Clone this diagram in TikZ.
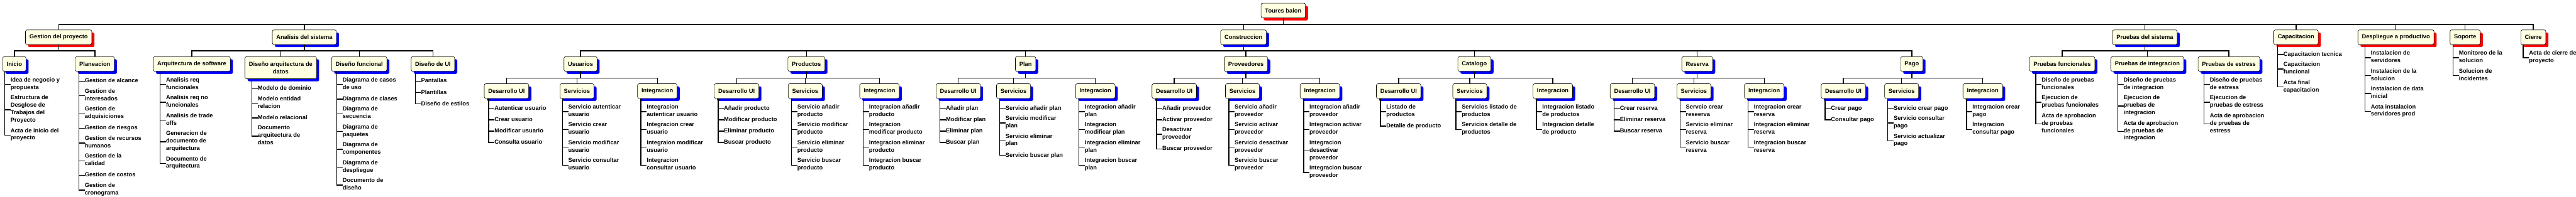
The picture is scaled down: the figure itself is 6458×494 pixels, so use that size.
\documentclass[tikz,border=0pt]{standalone}
\usepackage{fontspec}
\setmainfont{Liberation Sans}
\usetikzlibrary{shadows}
\definecolor{crema}{RGB}{255,255,225}
\tikzset{
  box/.style={draw,line width=1pt,rounded corners=4pt,fill=crema,anchor=north,align=center,
    minimum height=36.8pt,inner xsep=10pt,font=\fontsize{14.7}{18.77}\selectfont\bfseries,
    drop shadow={shadow xshift=6.5pt,shadow yshift=-6.5pt,fill=#1,opacity=1}},
  box/.default=blue,
  leaf/.style={anchor=north west,align=left,inner sep=0pt,font=\fontsize{14.7}{18.77}\selectfont\bfseries,
    execute at begin node=\strut,execute at end node=\strut},
  link/.style={line width=2.2pt}
}
\begin{document}
\begin{tikzpicture}[x=1pt,y=-1pt]
\useasboundingbox(0,0)rectangle(6458,494);
% niveles 0 y 1
\node[box=red](0)at(3217,7.6){Toures balon};
\node[box=red](1)at(147,74.7){Gestion del proyecto};
\node[box](2)at(763,74.7){Analisis del sistema};
\node[box](3)at(3117.4,74.7){Construccion};
\node[box](4)at(5377,74.7){Pruebas del sistema};
\node[box=red](5)at(5756,74.7){Capacitacion};
\node[box=red](6)at(6006.5,74.7){Despliegue a productivo};
\node[box=red](7)at(6180,74.7){Soporte};
\node[box=red](8)at(6351,74.7){Cierre};
% nivel 2
\node[box](11)at(36,141.9){Inicio};
\node[box](12)at(237.8,141.9){Planeacion};
\node[box](21)at(480.8,141.9){Arquitectura de software};
\node[box,minimum height=55.4pt](22)at(703.8,141.9){Diseño arquitectura de\\datos};
\node[box](23)at(900.6,141.9){Diseño funcional};
\node[box](24)at(1085.3,141.9){Diseño de UI};
\node[box](31)at(1455.3,141.9){Usuarios};
\node[box](32)at(2021.6,141.9){Productos};
\node[box](33)at(2571,141.9){Plan};
\node[box](34)at(3123.4,141.9){Proveedores};
\node[box](35)at(3696.2,141.9){Catalogo};
\node[box](36)at(4254.9,141.9){Reserva};
\node[box](37)at(4792.8,141.9){Pago};
\node[box](41)at(5169.7,141.9){Pruebas funcionales};
\node[box](42)at(5383.3,141.9){Pruebas de integracion};
\node[box](43)at(5587.9,141.9){Pruebas de estress};
% nivel 3
\node[box](311)at(1269.8,210){Desarrollo UI};
\node[box](312)at(1446.4,210){Servicios};
\node[box](313)at(1647.9,210){Integracion};
\node[box](321)at(1846.6,210){Desarrollo UI};
\node[box](322)at(2018.8,210){Servicios};
\node[box](323)at(2204.8,210){Integracion};
\node[box](331)at(2402.3,210){Desarrollo UI};
\node[box](332)at(2540.9,210){Servicios};
\node[box](333)at(2746,210){Integracion};
\node[box](341)at(2943.8,210){Desarrollo UI};
\node[box](342)at(3114.8,210){Servicios};
\node[box](343)at(3309,210){Integracion};
\node[box](351)at(3506.3,210){Desarrollo UI};
\node[box](352)at(3684.7,210){Servicios};
\node[box](353)at(3892.8,210){Integracion};
\node[box](361)at(4092.3,210){Desarrollo UI};
\node[box](362)at(4246.6,210){Servicios};
\node[box](363)at(4422.8,210){Integracion};
\node[box](371)at(4621.2,210){Desarrollo UI};
\node[box](372)at(4767.3,210){Servicios};
\node[box](373)at(4970.7,210){Integracion};
% hojas
\node[leaf](111)at([xshift=20pt,yshift=-14.9pt]11.south west){Idea de negocio y\\propuesta};
\node[leaf](112)at([yshift=-9.4pt]111.south west){Estructura de\\Desglose de\\Trabajos del\\Proyecto};
\node[leaf](113)at([yshift=-9.4pt]112.south west){Acta de inicio del\\proyecto};
\node[leaf](121)at([xshift=23.8pt,yshift=-14.9pt]12.south west){Gestion de alcance};
\node[leaf](122)at([yshift=-9.4pt]121.south west){Gestion de\\interesados};
\node[leaf](123)at([yshift=-9.4pt]122.south west){Gestion de\\adquisiciones};
\node[leaf](124)at([yshift=-9.4pt]123.south west){Gestion de riesgos};
\node[leaf](125)at([yshift=-9.4pt]124.south west){Gestion de recursos\\humanos};
\node[leaf](126)at([yshift=-9.4pt]125.south west){Gestion de la\\calidad};
\node[leaf](127)at([yshift=-9.4pt]126.south west){Gestion de costos};
\node[leaf](128)at([yshift=-9.4pt]127.south west){Gestion de\\cronograma};
\node[leaf](211)at([xshift=32.4pt,yshift=-14.9pt]21.south west){Analisis req\\funcionales};
\node[leaf](212)at([yshift=-9.4pt]211.south west){Analisis req no\\funcionales};
\node[leaf](213)at([yshift=-9.4pt]212.south west){Analisis de trade\\offs};
\node[leaf](214)at([yshift=-9.4pt]213.south west){Generacion de\\documento de\\arquitectura};
\node[leaf](215)at([yshift=-9.4pt]214.south west){Documento de\\arquitectura};
\node[leaf](221)at([xshift=32.4pt,yshift=-14.9pt]22.south west){Modelo de dominio};
\node[leaf](222)at([yshift=-9.4pt]221.south west){Modelo entidad\\relacion};
\node[leaf](223)at([yshift=-9.4pt]222.south west){Modelo relacional};
\node[leaf](224)at([yshift=-9.4pt]223.south west){Documento\\arquitectura de\\datos};
\node[leaf](231)at([xshift=27.9pt,yshift=-14.9pt]23.south west){Diagrama de casos\\de uso};
\node[leaf](232)at([yshift=-9.4pt]231.south west){Diagrama de clases};
\node[leaf](233)at([yshift=-9.4pt]232.south west){Diagrama de\\secuencia};
\node[leaf](234)at([yshift=-9.4pt]233.south west){Diagrama de\\paquetes};
\node[leaf](235)at([yshift=-9.4pt]234.south west){Diagrama de\\componentes};
\node[leaf](236)at([yshift=-9.4pt]235.south west){Diagrama de\\despliegue};
\node[leaf](237)at([yshift=-9.4pt]236.south west){Documento de\\diseño};
\node[leaf](241)at([xshift=25.2pt,yshift=-14.9pt]24.south west){Pantallas};
\node[leaf](242)at([yshift=-9.4pt]241.south west){Plantillas};
\node[leaf](243)at([yshift=-9.4pt]242.south west){Diseño de estilos};
\node[leaf](3111)at([xshift=25.9pt,yshift=-14.9pt]311.south west){Autenticar usuario};
\node[leaf](3112)at([yshift=-9.4pt]3111.south west){Crear usuario};
\node[leaf](3113)at([yshift=-9.4pt]3112.south west){Modificar usuario};
\node[leaf](3114)at([yshift=-9.4pt]3113.south west){Consulta usuario};
\node[leaf](3121)at([xshift=21.4pt,yshift=-14.9pt]312.south west){Servicio autenticar\\usuario};
\node[leaf](3122)at([yshift=-9.4pt]3121.south west){Servicio crear\\usuario};
\node[leaf](3123)at([yshift=-9.4pt]3122.south west){Servicio modificar\\usuario};
\node[leaf](3124)at([yshift=-9.4pt]3123.south west){Servicio consultar\\usuario};
\node[leaf](3131)at([xshift=23.5pt,yshift=-14.9pt]313.south west){Integracion\\autenticar usuario};
\node[leaf](3132)at([yshift=-9.4pt]3131.south west){Integracion crear\\usuario};
\node[leaf](3133)at([yshift=-9.4pt]3132.south west){Integraion modificar\\usuario};
\node[leaf](3134)at([yshift=-9.4pt]3133.south west){Integracion\\consultar usuario};
\node[leaf](3211)at([xshift=24.5pt,yshift=-14.9pt]321.south west){Añadir producto};
\node[leaf](3212)at([yshift=-9.4pt]3211.south west){Modificar producto};
\node[leaf](3213)at([yshift=-9.4pt]3212.south west){Eliminar producto};
\node[leaf](3214)at([yshift=-9.4pt]3213.south west){Buscar producto};
\node[leaf](3221)at([xshift=23.1pt,yshift=-14.9pt]322.south west){Servicio añadir\\producto};
\node[leaf](3222)at([yshift=-9.4pt]3221.south west){Servicio modificar\\producto};
\node[leaf](3223)at([yshift=-9.4pt]3222.south west){Servicio eliminar\\producto};
\node[leaf](3224)at([yshift=-9.4pt]3223.south west){Servicio buscar\\producto};
\node[leaf](3231)at([xshift=23.8pt,yshift=-14.9pt]323.south west){Integracion añadir\\producto};
\node[leaf](3232)at([yshift=-9.4pt]3231.south west){Integracion\\modificar producto};
\node[leaf](3233)at([yshift=-9.4pt]3232.south west){Integracion eliminar\\producto};
\node[leaf](3234)at([yshift=-9.4pt]3233.south west){Integracion buscar\\producto};
\node[leaf](3311)at([xshift=25.2pt,yshift=-14.9pt]331.south west){Añadir plan};
\node[leaf](3312)at([yshift=-9.4pt]3311.south west){Modificar plan};
\node[leaf](3313)at([yshift=-9.4pt]3312.south west){Eliminar plan};
\node[leaf](3314)at([yshift=-9.4pt]3313.south west){Buscar plan};
\node[leaf](3321)at([xshift=23.1pt,yshift=-14.9pt]332.south west){Servicio añadir plan};
\node[leaf](3322)at([yshift=-9.4pt]3321.south west){Servicio modificar\\plan};
\node[leaf](3323)at([yshift=-9.4pt]3322.south west){Servicio eliminar\\plan};
\node[leaf](3324)at([yshift=-9.4pt]3323.south west){Servicio buscar plan};
\node[leaf](3331)at([xshift=23.5pt,yshift=-14.9pt]333.south west){Integracion añadir\\plan};
\node[leaf](3332)at([yshift=-9.4pt]3331.south west){Integracion\\modificar plan};
\node[leaf](3333)at([yshift=-9.4pt]3332.south west){Integracion eliminar\\plan};
\node[leaf](3334)at([yshift=-9.4pt]3333.south west){Integracion buscar\\plan};
\node[leaf](3411)at([xshift=26.2pt,yshift=-14.9pt]341.south west){Añadir proveedor};
\node[leaf](3412)at([yshift=-9.4pt]3411.south west){Activar proveedor};
\node[leaf](3413)at([yshift=-9.4pt]3412.south west){Desactivar\\proveedor};
\node[leaf](3414)at([yshift=-9.4pt]3413.south west){Buscar proveedor};
\node[leaf](3421)at([xshift=23.5pt,yshift=-14.9pt]342.south west){Servicio añadir\\proveedor};
\node[leaf](3422)at([yshift=-9.4pt]3421.south west){Servicio activar\\proveedor};
\node[leaf](3423)at([yshift=-9.4pt]3422.south west){Servicio desactivar\\proveedor};
\node[leaf](3424)at([yshift=-9.4pt]3423.south west){Servicio buscar\\proveedor};
\node[leaf](3431)at([xshift=23.8pt,yshift=-14.9pt]343.south west){Integracion añadir\\proveedor};
\node[leaf](3432)at([yshift=-9.4pt]3431.south west){Integracion activar\\proveedor};
\node[leaf](3433)at([yshift=-9.4pt]3432.south west){Integracion\\desactivar\\proveedor};
\node[leaf](3434)at([yshift=-9.4pt]3433.south west){Integracion buscar\\proveedor};
\node[leaf](3511)at([xshift=25.2pt,yshift=-14.9pt]351.south west){Listado de\\productos};
\node[leaf](3512)at([yshift=-9.4pt]3511.south west){Detalle de producto};
\node[leaf](3521)at([xshift=22.8pt,yshift=-14.9pt]352.south west){Servicios listado de\\productos};
\node[leaf](3522)at([yshift=-9.4pt]3521.south west){Servicios detalle de\\productos};
\node[leaf](3531)at([xshift=23.8pt,yshift=-14.9pt]353.south west){Integracion listado\\de productos};
\node[leaf](3532)at([yshift=-9.4pt]3531.south west){Integracion detalle\\de producto};
\node[leaf](3611)at([xshift=24.8pt,yshift=-14.9pt]361.south west){Crear reserva};
\node[leaf](3612)at([yshift=-9.4pt]3611.south west){Eliminar reserva};
\node[leaf](3613)at([yshift=-9.4pt]3612.south west){Buscar reserva};
\node[leaf](3621)at([xshift=22.8pt,yshift=-14.9pt]362.south west){Servcio crear\\reseerva};
\node[leaf](3622)at([yshift=-9.4pt]3621.south west){Servicio eliminar\\reserva};
\node[leaf](3623)at([yshift=-9.4pt]3622.south west){Servicio buscar\\reserva};
\node[leaf](3631)at([xshift=24.1pt,yshift=-14.9pt]363.south west){Integracion crear\\reserva};
\node[leaf](3632)at([yshift=-9.4pt]3631.south west){Integracion eliminar\\reserva};
\node[leaf](3633)at([yshift=-9.4pt]3632.south west){Integracion buscar\\reserva};
\node[leaf](3711)at([xshift=25.2pt,yshift=-14.9pt]371.south west){Crear pago};
\node[leaf](3712)at([yshift=-9.4pt]3711.south west){Consultar pago};
\node[leaf](3721)at([xshift=23.1pt,yshift=-14.9pt]372.south west){Servicio crear pago};
\node[leaf](3722)at([yshift=-9.4pt]3721.south west){Servicio consultar\\pago};
\node[leaf](3723)at([yshift=-9.4pt]3722.south west){Servicio actualizar\\pago};
\node[leaf](3731)at([xshift=24.1pt,yshift=-14.9pt]373.south west){Integracion crear\\pago};
\node[leaf](3732)at([yshift=-9.4pt]3731.south west){Integracion\\consultar pago};
\node[leaf](411)at([xshift=30.7pt,yshift=-14.9pt]41.south west){Diseño de pruebas\\funcionales};
\node[leaf](412)at([yshift=-9.4pt]411.south west){Ejecucion de\\pruebas funcionales};
\node[leaf](413)at([yshift=-9.4pt]412.south west){Acta de aprobacion\\de pruebas\\funcionales};
\node[leaf](421)at([xshift=32.1pt,yshift=-14.9pt]42.south west){Diseño de pruebas\\de integracion};
\node[leaf](422)at([yshift=-9.4pt]421.south west){Ejecucion de\\pruebas de\\integracion};
\node[leaf](423)at([yshift=-9.4pt]422.south west){Acta de aprobacion\\de pruebas de\\integracion};
\node[leaf](431)at([xshift=30pt,yshift=-14.9pt]43.south west){Diseño de pruebas\\de estress};
\node[leaf](432)at([yshift=-9.4pt]431.south west){Ejecucion de\\pruebas de estress};
\node[leaf](433)at([yshift=-9.4pt]432.south west){Acta de aprobacion\\de pruebas de\\estress};
\node[leaf](51)at([xshift=24.8pt,yshift=-14.9pt]5.south west){Capacitacion tecnica};
\node[leaf](52)at([yshift=-9.4pt]51.south west){Capacitacion\\funcional};
\node[leaf](53)at([yshift=-9.4pt]52.south west){Acta final\\capacitacion};
\node[leaf](61)at([xshift=32.8pt,yshift=-14.9pt]6.south west){Instalacion de\\servidores};
\node[leaf](62)at([yshift=-9.4pt]61.south west){Instalacion de la\\solucion};
\node[leaf](63)at([yshift=-9.4pt]62.south west){Instalacion de data\\inicial};
\node[leaf](64)at([yshift=-9.4pt]63.south west){Acta instalacion\\servidores prod};
\node[leaf](71)at([xshift=22.4pt,yshift=-14.9pt]7.south west){Monitoreo de la\\solucion};
\node[leaf](72)at([yshift=-9.4pt]71.south west){Solucion de\\incidentes};
\node[leaf](81)at([xshift=21pt,yshift=-14.9pt]8.south west){Acta de cierre de\\proyecto};
% conectores entre cajas
\draw[link](0.south)--++(0,16)-|(1.north);
\draw[link](0.south)--++(0,16)-|(2.north);
\draw[link](0.south)--++(0,16)-|(3.north);
\draw[link](0.south)--++(0,16)-|(4.north);
\draw[link](0.south)--++(0,16)-|(5.north);
\draw[link](0.south)--++(0,16)-|(6.north);
\draw[link](0.south)--++(0,16)-|(7.north);
\draw[link](0.south)--++(0,16)-|(8.north);
\draw[link](1.south)--++(0,15.2)-|(11.north);
\draw[link](1.south)--++(0,15.2)-|(12.north);
\draw[link](2.south)--++(0,15.2)-|(21.north);
\draw[link](2.south)--++(0,15.2)-|(22.north);
\draw[link](2.south)--++(0,15.2)-|(23.north);
\draw[link](2.south)--++(0,15.2)-|(24.north);
\draw[link](3.south)--++(0,15.2)-|(31.north);
\draw[link](3.south)--++(0,15.2)-|(32.north);
\draw[link](3.south)--++(0,15.2)-|(33.north);
\draw[link](3.south)--++(0,15.2)-|(34.north);
\draw[link](3.south)--++(0,15.2)-|(35.north);
\draw[link](3.south)--++(0,15.2)-|(36.north);
\draw[link](3.south)--++(0,15.2)-|(37.north);
\draw[link](4.south)--++(0,15.2)-|(41.north);
\draw[link](4.south)--++(0,15.2)-|(42.north);
\draw[link](4.south)--++(0,15.2)-|(43.north);
\draw[link](31.south)--++(0,16.2)-|(311.north);
\draw[link](31.south)--++(0,16.2)-|(312.north);
\draw[link](31.south)--++(0,16.2)-|(313.north);
\draw[link](32.south)--++(0,16.2)-|(321.north);
\draw[link](32.south)--++(0,16.2)-|(322.north);
\draw[link](32.south)--++(0,16.2)-|(323.north);
\draw[link](33.south)--++(0,16.2)-|(331.north);
\draw[link](33.south)--++(0,16.2)-|(332.north);
\draw[link](33.south)--++(0,16.2)-|(333.north);
\draw[link](34.south)--++(0,16.2)-|(341.north);
\draw[link](34.south)--++(0,16.2)-|(342.north);
\draw[link](34.south)--++(0,16.2)-|(343.north);
\draw[link](35.south)--++(0,16.2)-|(351.north);
\draw[link](35.south)--++(0,16.2)-|(352.north);
\draw[link](35.south)--++(0,16.2)-|(353.north);
\draw[link](36.south)--++(0,16.2)-|(361.north);
\draw[link](36.south)--++(0,16.2)-|(362.north);
\draw[link](36.south)--++(0,16.2)-|(363.north);
\draw[link](37.south)--++(0,16.2)-|(371.north);
\draw[link](37.south)--++(0,16.2)-|(372.north);
\draw[link](37.south)--++(0,16.2)-|(373.north);
% conectores a las hojas
\draw[link]([xshift=5.5pt]11.south west)|-(111.west);
\draw[link]([xshift=5.5pt]11.south west)|-(112.west);
\draw[link]([xshift=5.5pt]11.south west)|-(113.west);
\draw[link]([xshift=9.3pt]12.south west)|-(121.west);
\draw[link]([xshift=9.3pt]12.south west)|-(122.west);
\draw[link]([xshift=9.3pt]12.south west)|-(123.west);
\draw[link]([xshift=9.3pt]12.south west)|-(124.west);
\draw[link]([xshift=9.3pt]12.south west)|-(125.west);
\draw[link]([xshift=9.3pt]12.south west)|-(126.west);
\draw[link]([xshift=9.3pt]12.south west)|-(127.west);
\draw[link]([xshift=9.3pt]12.south west)|-(128.west);
\draw[link]([xshift=17.9pt]21.south west)|-(211.west);
\draw[link]([xshift=17.9pt]21.south west)|-(212.west);
\draw[link]([xshift=17.9pt]21.south west)|-(213.west);
\draw[link]([xshift=17.9pt]21.south west)|-(214.west);
\draw[link]([xshift=17.9pt]21.south west)|-(215.west);
\draw[link]([xshift=17.9pt]22.south west)|-(221.west);
\draw[link]([xshift=17.9pt]22.south west)|-(222.west);
\draw[link]([xshift=17.9pt]22.south west)|-(223.west);
\draw[link]([xshift=17.9pt]22.south west)|-(224.west);
\draw[link]([xshift=13.4pt]23.south west)|-(231.west);
\draw[link]([xshift=13.4pt]23.south west)|-(232.west);
\draw[link]([xshift=13.4pt]23.south west)|-(233.west);
\draw[link]([xshift=13.4pt]23.south west)|-(234.west);
\draw[link]([xshift=13.4pt]23.south west)|-(235.west);
\draw[link]([xshift=13.4pt]23.south west)|-(236.west);
\draw[link]([xshift=13.4pt]23.south west)|-(237.west);
\draw[link]([xshift=10.7pt]24.south west)|-(241.west);
\draw[link]([xshift=10.7pt]24.south west)|-(242.west);
\draw[link]([xshift=10.7pt]24.south west)|-(243.west);
\draw[link]([xshift=11.4pt]311.south west)|-(3111.west);
\draw[link]([xshift=11.4pt]311.south west)|-(3112.west);
\draw[link]([xshift=11.4pt]311.south west)|-(3113.west);
\draw[link]([xshift=11.4pt]311.south west)|-(3114.west);
\draw[link]([xshift=6.9pt]312.south west)|-(3121.west);
\draw[link]([xshift=6.9pt]312.south west)|-(3122.west);
\draw[link]([xshift=6.9pt]312.south west)|-(3123.west);
\draw[link]([xshift=6.9pt]312.south west)|-(3124.west);
\draw[link]([xshift=9pt]313.south west)|-(3131.west);
\draw[link]([xshift=9pt]313.south west)|-(3132.west);
\draw[link]([xshift=9pt]313.south west)|-(3133.west);
\draw[link]([xshift=9pt]313.south west)|-(3134.west);
\draw[link]([xshift=10pt]321.south west)|-(3211.west);
\draw[link]([xshift=10pt]321.south west)|-(3212.west);
\draw[link]([xshift=10pt]321.south west)|-(3213.west);
\draw[link]([xshift=10pt]321.south west)|-(3214.west);
\draw[link]([xshift=8.6pt]322.south west)|-(3221.west);
\draw[link]([xshift=8.6pt]322.south west)|-(3222.west);
\draw[link]([xshift=8.6pt]322.south west)|-(3223.west);
\draw[link]([xshift=8.6pt]322.south west)|-(3224.west);
\draw[link]([xshift=9.3pt]323.south west)|-(3231.west);
\draw[link]([xshift=9.3pt]323.south west)|-(3232.west);
\draw[link]([xshift=9.3pt]323.south west)|-(3233.west);
\draw[link]([xshift=9.3pt]323.south west)|-(3234.west);
\draw[link]([xshift=10.7pt]331.south west)|-(3311.west);
\draw[link]([xshift=10.7pt]331.south west)|-(3312.west);
\draw[link]([xshift=10.7pt]331.south west)|-(3313.west);
\draw[link]([xshift=10.7pt]331.south west)|-(3314.west);
\draw[link]([xshift=8.6pt]332.south west)|-(3321.west);
\draw[link]([xshift=8.6pt]332.south west)|-(3322.west);
\draw[link]([xshift=8.6pt]332.south west)|-(3323.west);
\draw[link]([xshift=8.6pt]332.south west)|-(3324.west);
\draw[link]([xshift=9pt]333.south west)|-(3331.west);
\draw[link]([xshift=9pt]333.south west)|-(3332.west);
\draw[link]([xshift=9pt]333.south west)|-(3333.west);
\draw[link]([xshift=9pt]333.south west)|-(3334.west);
\draw[link]([xshift=11.7pt]341.south west)|-(3411.west);
\draw[link]([xshift=11.7pt]341.south west)|-(3412.west);
\draw[link]([xshift=11.7pt]341.south west)|-(3413.west);
\draw[link]([xshift=11.7pt]341.south west)|-(3414.west);
\draw[link]([xshift=9pt]342.south west)|-(3421.west);
\draw[link]([xshift=9pt]342.south west)|-(3422.west);
\draw[link]([xshift=9pt]342.south west)|-(3423.west);
\draw[link]([xshift=9pt]342.south west)|-(3424.west);
\draw[link]([xshift=9.3pt]343.south west)|-(3431.west);
\draw[link]([xshift=9.3pt]343.south west)|-(3432.west);
\draw[link]([xshift=9.3pt]343.south west)|-(3433.west);
\draw[link]([xshift=9.3pt]343.south west)|-(3434.west);
\draw[link]([xshift=10.7pt]351.south west)|-(3511.west);
\draw[link]([xshift=10.7pt]351.south west)|-(3512.west);
\draw[link]([xshift=8.3pt]352.south west)|-(3521.west);
\draw[link]([xshift=8.3pt]352.south west)|-(3522.west);
\draw[link]([xshift=9.3pt]353.south west)|-(3531.west);
\draw[link]([xshift=9.3pt]353.south west)|-(3532.west);
\draw[link]([xshift=10.3pt]361.south west)|-(3611.west);
\draw[link]([xshift=10.3pt]361.south west)|-(3612.west);
\draw[link]([xshift=10.3pt]361.south west)|-(3613.west);
\draw[link]([xshift=8.3pt]362.south west)|-(3621.west);
\draw[link]([xshift=8.3pt]362.south west)|-(3622.west);
\draw[link]([xshift=8.3pt]362.south west)|-(3623.west);
\draw[link]([xshift=9.6pt]363.south west)|-(3631.west);
\draw[link]([xshift=9.6pt]363.south west)|-(3632.west);
\draw[link]([xshift=9.6pt]363.south west)|-(3633.west);
\draw[link]([xshift=10.7pt]371.south west)|-(3711.west);
\draw[link]([xshift=10.7pt]371.south west)|-(3712.west);
\draw[link]([xshift=8.6pt]372.south west)|-(3721.west);
\draw[link]([xshift=8.6pt]372.south west)|-(3722.west);
\draw[link]([xshift=8.6pt]372.south west)|-(3723.west);
\draw[link]([xshift=9.6pt]373.south west)|-(3731.west);
\draw[link]([xshift=9.6pt]373.south west)|-(3732.west);
\draw[link]([xshift=16.2pt]41.south west)|-(411.west);
\draw[link]([xshift=16.2pt]41.south west)|-(412.west);
\draw[link]([xshift=16.2pt]41.south west)|-(413.west);
\draw[link]([xshift=17.6pt]42.south west)|-(421.west);
\draw[link]([xshift=17.6pt]42.south west)|-(422.west);
\draw[link]([xshift=17.6pt]42.south west)|-(423.west);
\draw[link]([xshift=15.5pt]43.south west)|-(431.west);
\draw[link]([xshift=15.5pt]43.south west)|-(432.west);
\draw[link]([xshift=15.5pt]43.south west)|-(433.west);
\draw[link]([xshift=10.3pt]5.south west)|-(51.west);
\draw[link]([xshift=10.3pt]5.south west)|-(52.west);
\draw[link]([xshift=10.3pt]5.south west)|-(53.west);
\draw[link]([xshift=18.3pt]6.south west)|-(61.west);
\draw[link]([xshift=18.3pt]6.south west)|-(62.west);
\draw[link]([xshift=18.3pt]6.south west)|-(63.west);
\draw[link]([xshift=18.3pt]6.south west)|-(64.west);
\draw[link]([xshift=7.9pt]7.south west)|-(71.west);
\draw[link]([xshift=7.9pt]7.south west)|-(72.west);
\draw[link]([xshift=6.5pt]8.south west)|-(81.west);
\end{tikzpicture}
\end{document}
